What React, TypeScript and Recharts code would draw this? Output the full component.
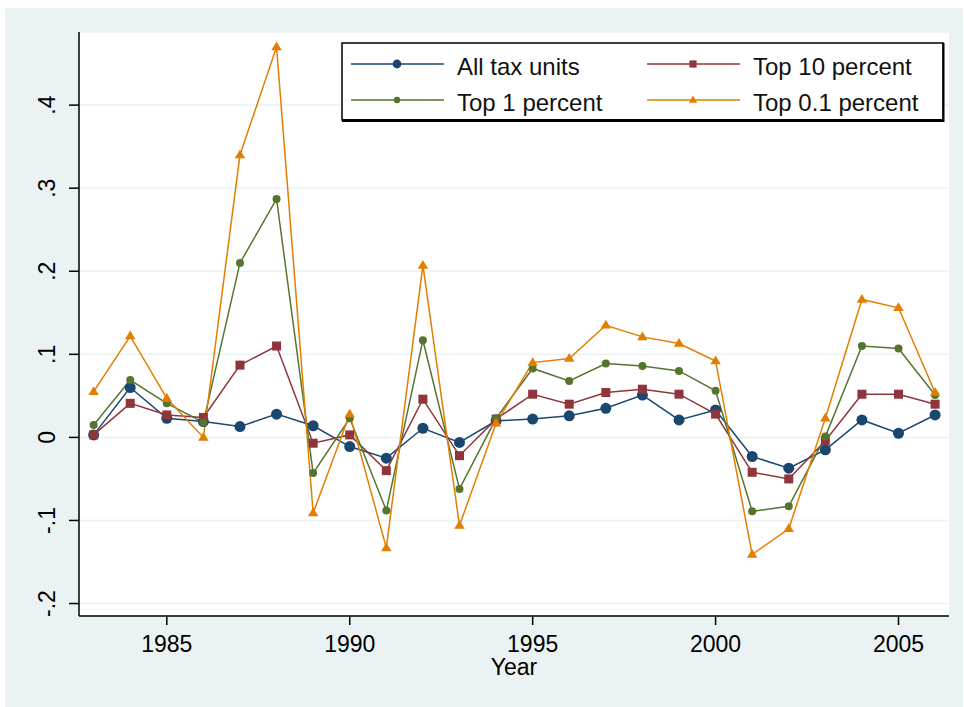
import { LineChart, Line, XAxis, YAxis, CartesianGrid } from "recharts";

const years = [
  1983, 1984, 1985, 1986, 1987, 1988, 1989, 1990, 1991, 1992, 1993, 1994,
  1995, 1996, 1997, 1998, 1999, 2000, 2001, 2002, 2003, 2004, 2005, 2006,
];
const allUnits = [
  0.003, 0.06, 0.023, 0.019, 0.013, 0.028, 0.014, -0.011, -0.025, 0.011, -0.006, 0.02,
  0.022, 0.026, 0.035, 0.051, 0.021, 0.033, -0.023, -0.037, -0.015, 0.021, 0.005, 0.027,
];
const top10 = [
  0.003, 0.041, 0.027, 0.024, 0.087, 0.11, -0.007, 0.003, -0.04, 0.046, -0.022, 0.022,
  0.052, 0.04, 0.054, 0.058, 0.052, 0.028, -0.042, -0.05, -0.004, 0.052, 0.052, 0.04,
];
const top1 = [
  0.015, 0.069, 0.041, 0.018, 0.21, 0.287, -0.043, 0.023, -0.088, 0.117, -0.062, 0.023,
  0.083, 0.068, 0.089, 0.086, 0.08, 0.056, -0.089, -0.083, 0.001, 0.11, 0.107, 0.051,
];
const top01 = [
  0.055, 0.122, 0.047, 0.0, 0.34, 0.47, -0.091, 0.028, -0.133, 0.207, -0.106, 0.017,
  0.09, 0.095, 0.135, 0.121, 0.113, 0.092, -0.141, -0.11, 0.023, 0.166, 0.156, 0.054,
];
const xTicks = [1985, 1990, 1995, 2000, 2005];
const yTicks = [-0.2, -0.1, 0, 0.1, 0.2, 0.3, 0.4];

const data = years.map((year, i) => ({
  year,
  all: allUnits[i],
  top10: top10[i],
  top1: top1[i],
  top01: top01[i],
}));

const FONT = "'Liberation Sans', Arial, sans-serif";
const BG = "#eaf2f3";

const series = [
  { key: "all", name: "All tax units", color: "#1a476f", shape: "bigcircle" },
  { key: "top10", name: "Top 10 percent", color: "#90353b", shape: "square" },
  { key: "top1", name: "Top 1 percent", color: "#55752f", shape: "circle" },
  { key: "top01", name: "Top 0.1 percent", color: "#e37e00", shape: "triangle" },
];

function Marker({ shape, cx, cy, color, s = 1 }: any) {
  if (cx == null || cy == null) return null;
  if (shape === "bigcircle") return <circle cx={cx} cy={cy} r={5.5 * s} fill={color} />;
  if (shape === "circle") return <circle cx={cx} cy={cy} r={4 * s} fill={color} />;
  if (shape === "square") {
    const h = 4.5 * s;
    return <rect x={cx - h} y={cy - h} width={2 * h} height={2 * h} fill={color} />;
  }
  const r = 5.5 * s;
  return (
    <polygon
      points={`${cx},${cy - r} ${cx - r * 0.95},${cy + r * 0.6} ${cx + r * 0.95},${cy + r * 0.6}`}
      fill={color}
    />
  );
}

const fmt = (v: number) => (v === 0 ? "0" : v.toFixed(1).replace("0.", "."));

function YTick({ x, y, payload }: any) {
  return (
    <text
      x={x}
      y={y}
      transform={`rotate(-90, ${x}, ${y})`}
      textAnchor="middle"
      fontSize={23}
      fontFamily={FONT}
      fill="#000"
    >
      {fmt(payload.value)}
    </text>
  );
}

function LegendBox() {
  const rows = [
    [series[0], series[1]],
    [series[2], series[3]],
  ];
  return (
    <svg width={604} height={82} style={{ display: "block" }}>
      <rect x={1} y={1} width={601} height={77} fill="#fff" stroke="#000" strokeWidth={1.5} />
      <line x1={1} y1={78.5} x2={603} y2={78.5} stroke="#000" strokeWidth={3} />
      <line x1={602.5} y1={1} x2={602.5} y2={80} stroke="#000" strokeWidth={2} />
      {rows.map((row, r) =>
        row.map((s, c) => {
          const lx = c === 0 ? 10 : 306;
          const cy = r === 0 ? 22 : 58;
          return (
            <g key={s.key}>
              <line x1={lx} y1={cy} x2={lx + 93} y2={cy} stroke={s.color} strokeWidth={1.5} />
              <Marker shape={s.shape} cx={lx + 46} cy={cy} color={s.color} s={0.8} />
              <text x={lx + 106} y={cy + 11} fontSize={24} fontFamily={FONT} fill="#111">
                {s.name}
              </text>
            </g>
          );
        })
      )}
    </svg>
  );
}

export default function App() {
  return (
    <div style={{ position: "absolute", left: 0, top: 0, width: 964, height: 707, background: "#fff" }}>
      <div style={{ position: "absolute", left: 5, top: 8, width: 958, height: 699, background: BG }} />
      <div style={{ position: "absolute", left: 0, top: 0 }}>
        <LineChart
          width={964}
          height={707}
          data={data}
          margin={{ top: 32, right: 15, bottom: 0, left: 0 }}
        >
          <CartesianGrid horizontal vertical={false} stroke={BG} strokeWidth={1.5} fill="#ffffff" />
          <XAxis
            dataKey="year"
            type="number"
            domain={[1982.6, 2006.38]}
            ticks={xTicks}
            allowDataOverflow
            height={91}
            tickSize={9}
            tickMargin={11}
            stroke="#000"
            strokeWidth={1.5}
            tick={{ fontSize: 23, fontFamily: FONT, fill: "#000" }}
            label={{
              value: "Year",
              position: "insideTop",
              offset: 43,
              fontSize: 23,
              fontFamily: FONT,
              fill: "#000",
            }}
          />
          <YAxis
            type="number"
            domain={[-0.215, 0.488]}
            ticks={yTicks}
            allowDataOverflow
            width={79}
            tickSize={10}
            tickMargin={14}
            stroke="#000"
            strokeWidth={1.5}
            tick={<YTick />}
          />
          {series.map((s) => (
            <Line
              key={s.key}
              dataKey={s.key}
              name={s.name}
              stroke={s.color}
              strokeWidth={1.5}
              isAnimationActive={false}
              dot={(p: any) => (
                <Marker key={`${s.key}-${p.index}`} shape={s.shape} cx={p.cx} cy={p.cy} color={s.color} />
              )}
              activeDot={false}
            />
          ))}
        </LineChart>
      </div>
      <div style={{ position: "absolute", left: 341, top: 42 }}>
        <LegendBox />
      </div>
    </div>
  );
}
